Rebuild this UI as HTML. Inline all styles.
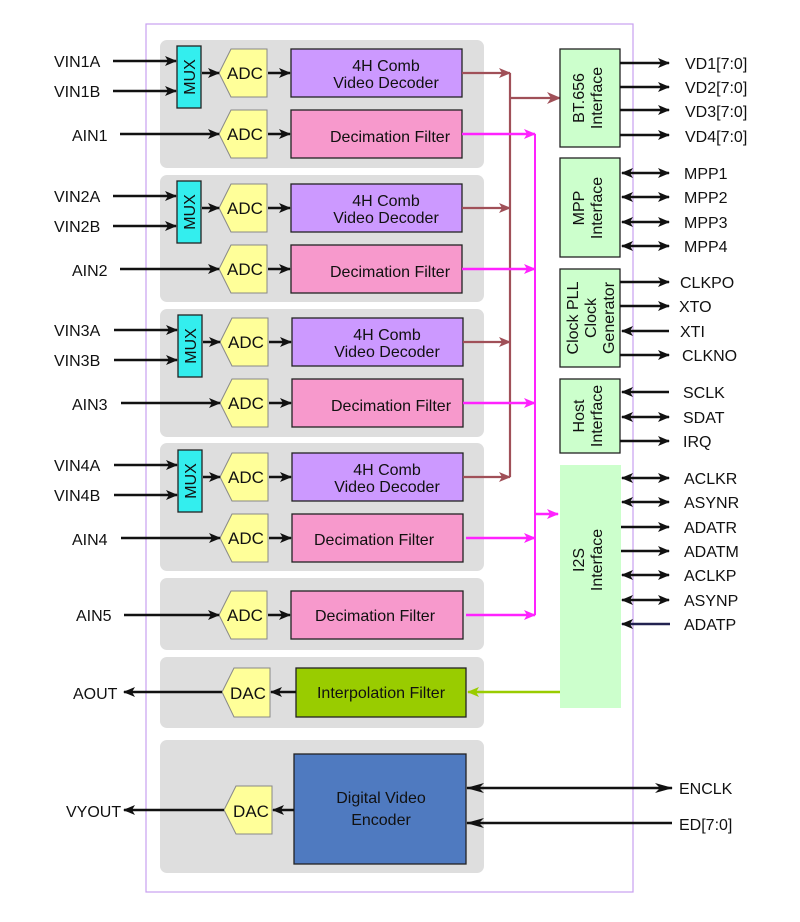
<!DOCTYPE html>
<html><head><meta charset="utf-8"><style>
html,body{margin:0;padding:0;background:#fff;}
svg{display:block;font-family:"Liberation Sans",Arial,sans-serif;}
</style></head><body>
<svg width="800" height="922" viewBox="0 0 800 922" xmlns="http://www.w3.org/2000/svg">
<defs>
<marker id="ab" markerWidth="12" markerHeight="10" refX="11" refY="5" orient="auto" markerUnits="userSpaceOnUse"><path d="M0,0 L12,5 L0,10 L3,5 z" fill="#111"/></marker>
<marker id="abs" markerWidth="12" markerHeight="10" refX="1" refY="5" orient="auto" markerUnits="userSpaceOnUse"><path d="M12,0 L0,5 L12,10 L9,5 z" fill="#111"/></marker>
<marker id="ar" markerWidth="12" markerHeight="10" refX="11" refY="5" orient="auto" markerUnits="userSpaceOnUse"><path d="M0,0 L12,5 L0,10 L3,5 z" fill="#a05058"/></marker>
<marker id="arL" markerWidth="14" markerHeight="12" refX="13" refY="6" orient="auto" markerUnits="userSpaceOnUse"><path d="M0,0 L14,6 L0,12 L4,6 z" fill="#a05058"/></marker>
<marker id="ap" markerWidth="12" markerHeight="10" refX="11" refY="5" orient="auto" markerUnits="userSpaceOnUse"><path d="M0,0 L12,5 L0,10 L3,5 z" fill="#ff22ff"/></marker>
<marker id="ag" markerWidth="12" markerHeight="10" refX="11" refY="5" orient="auto" markerUnits="userSpaceOnUse"><path d="M0,0 L12,5 L0,10 L3,5 z" fill="#99cc00"/></marker>
<marker id="aw" markerWidth="18" markerHeight="10" refX="17" refY="5" orient="auto" markerUnits="userSpaceOnUse"><path d="M0,0 L18,5 L0,10 L5,5 z" fill="#111"/></marker>
<marker id="aws" markerWidth="18" markerHeight="10" refX="1" refY="5" orient="auto" markerUnits="userSpaceOnUse"><path d="M18,0 L0,5 L18,10 L13,5 z" fill="#111"/></marker>
</defs>

<rect x="146" y="24" width="487" height="868" fill="none" stroke="#c8a0f0" stroke-width="1.2"/>

<g fill="#dedede">
<rect x="160" y="40" width="324" height="128" rx="7"/>
<rect x="160" y="175" width="324" height="127" rx="7"/>
<rect x="160" y="309" width="324" height="128" rx="7"/>
<rect x="160" y="443" width="324" height="128" rx="7"/>
<rect x="160" y="578" width="324" height="72" rx="7"/>
<rect x="160" y="657" width="324" height="71" rx="7"/>
<rect x="160" y="740" width="324" height="133" rx="7"/>
</g>

<g font-size="16" fill="#111">
<g id="ch1">
<rect x="177" y="46" width="24" height="62" fill="#33eeee" stroke="#222" stroke-width="1.3"/>
<text transform="translate(195,77) rotate(-90)" text-anchor="middle" font-size="16">MUX</text>
<path d="M231,49 L267,49 L267,97 L231,97 L219,73 Z" fill="#ffff99" stroke="#888" stroke-width="1"/>
<text x="245" y="79" text-anchor="middle" font-size="17">ADC</text>
<rect x="291" y="49" width="171" height="48" fill="#cc99ff" stroke="#222" stroke-width="1.3"/>
<text x="386" y="71" text-anchor="middle">4H Comb</text>
<text x="386" y="88" text-anchor="middle">Video Decoder</text>
<path d="M231,110 L267,110 L267,158 L231,158 L219,134 Z" fill="#ffff99" stroke="#888" stroke-width="1"/>
<text x="245" y="140" text-anchor="middle" font-size="17">ADC</text>
<rect x="291" y="110" width="171" height="48" fill="#f799cc" stroke="#222" stroke-width="1.3"/>
<g stroke="#111" stroke-width="2.5" fill="none">
<line x1="113" y1="61" x2="176" y2="61" marker-end="url(#ab)"/>
<line x1="113" y1="91" x2="176" y2="91" marker-end="url(#ab)"/>
<line x1="202" y1="73" x2="219" y2="73" marker-end="url(#ab)"/>
<line x1="268" y1="73" x2="290" y2="73" marker-end="url(#ab)"/>
<line x1="120" y1="134" x2="219" y2="134" marker-end="url(#ab)"/>
<line x1="268" y1="134" x2="290" y2="134" marker-end="url(#ab)"/>
</g>
</g>
<use href="#ch1" y="135"/>
<use href="#ch1" x="1" y="269"/>
<use href="#ch1" x="1" y="404"/>

<text x="390" y="142" text-anchor="middle">Decimation Filter</text>
<text x="390" y="277" text-anchor="middle">Decimation Filter</text>
<text x="391" y="411" text-anchor="middle">Decimation Filter</text>
<text x="374" y="545" text-anchor="middle">Decimation Filter</text>

<text x="54" y="67">VIN1A</text><text x="54" y="97">VIN1B</text><text x="72" y="141">AIN1</text>
<text x="54" y="202">VIN2A</text><text x="54" y="232">VIN2B</text><text x="72" y="276">AIN2</text>
<text x="54" y="336">VIN3A</text><text x="54" y="366">VIN3B</text><text x="72" y="410">AIN3</text>
<text x="54" y="471">VIN4A</text><text x="54" y="501">VIN4B</text><text x="72" y="545">AIN4</text>

<path d="M231,591 L267,591 L267,639 L231,639 L219,615 Z" fill="#ffff99" stroke="#888"/>
<text x="245" y="621" text-anchor="middle" font-size="17">ADC</text>
<rect x="291" y="591" width="172" height="48" fill="#f799cc" stroke="#222" stroke-width="1.3"/>
<text x="375" y="621" text-anchor="middle">Decimation Filter</text>
<text x="76" y="621">AIN5</text>
<g stroke="#111" stroke-width="2.5" fill="none">
<line x1="124" y1="615" x2="219" y2="615" marker-end="url(#ab)"/>
<line x1="268" y1="615" x2="290" y2="615" marker-end="url(#ab)"/>
</g>

<path d="M234,668 L270,668 L270,717 L234,717 L222,692 Z" fill="#ffff99" stroke="#888"/>
<text x="248" y="699" text-anchor="middle" font-size="17">DAC</text>
<rect x="296" y="668" width="170" height="49" fill="#99cc00" stroke="#222" stroke-width="1.3"/>
<text x="381" y="698" text-anchor="middle" font-size="16">Interpolation Filter</text>
<text x="73" y="699">AOUT</text>
<g stroke="#111" stroke-width="2.5" fill="none">
<line x1="222" y1="692" x2="124" y2="692" marker-end="url(#ab)"/>
<line x1="296" y1="692" x2="271" y2="692" marker-end="url(#ab)"/>
</g>
<line x1="560" y1="692" x2="468" y2="692" stroke="#99cc00" stroke-width="2.5" marker-end="url(#ag)"/>

<rect x="294" y="754" width="172" height="110" fill="#4f7ac0" stroke="#222" stroke-width="1.3"/>
<text x="381" y="803" text-anchor="middle">Digital Video</text>
<text x="381" y="825" text-anchor="middle">Encoder</text>
<path d="M236,786 L272,786 L272,834 L236,834 L224,810 Z" fill="#ffff99" stroke="#888"/>
<text x="251" y="817" text-anchor="middle" font-size="17">DAC</text>
<text x="66" y="817">VYOUT</text>
<g stroke="#111" stroke-width="2.5" fill="none">
<line x1="224" y1="810" x2="124" y2="810" marker-end="url(#ab)"/>
<line x1="294" y1="810" x2="273" y2="810" marker-end="url(#ab)"/>
<line x1="467" y1="788" x2="672" y2="788" marker-start="url(#aws)" marker-end="url(#aw)"/>
<line x1="672" y1="823" x2="467" y2="823" marker-end="url(#aw)"/>
</g>
<text x="679" y="794">ENCLK</text>
<text x="679" y="830">ED[7:0]</text>

<g stroke="#a05058" stroke-width="2.2" fill="none">
<line x1="462" y1="73" x2="510" y2="73" marker-end="url(#ar)"/>
<line x1="462" y1="208" x2="510" y2="208" marker-end="url(#ar)"/>
<line x1="463" y1="342" x2="510" y2="342" marker-end="url(#ar)"/>
<line x1="463" y1="477" x2="510" y2="477" marker-end="url(#ar)"/>
<line x1="510" y1="73" x2="510" y2="477"/>
<line x1="510" y1="98" x2="560" y2="98" marker-end="url(#arL)"/>
</g>
<g stroke="#ff22ff" stroke-width="2.5" fill="none">
<line x1="462" y1="134" x2="535" y2="134" marker-end="url(#ap)"/>
<line x1="462" y1="269" x2="535" y2="269" marker-end="url(#ap)"/>
<line x1="463" y1="403" x2="535" y2="403" marker-end="url(#ap)"/>
<line x1="466" y1="538" x2="535" y2="538" marker-end="url(#ap)"/>
<line x1="466" y1="615" x2="535" y2="615" marker-end="url(#ap)"/>
<line x1="535" y1="134" x2="535" y2="615" stroke-width="2"/>
<line x1="535" y1="514" x2="558" y2="514" marker-end="url(#ap)"/>
</g>

<g fill="#ccffcc" stroke="#222" stroke-width="1.3">
<rect x="560" y="49" width="60" height="98"/>
<rect x="560" y="158" width="60" height="99"/>
<rect x="560" y="269" width="60" height="98"/>
<rect x="560" y="379" width="60" height="74"/>
</g>
<rect x="560" y="465" width="61" height="243" fill="#ccffcc"/>
<text transform="translate(584,98) rotate(-90)" text-anchor="middle">BT.656</text>
<text transform="translate(602,98) rotate(-90)" text-anchor="middle">Interface</text>
<text transform="translate(584,208) rotate(-90)" text-anchor="middle">MPP</text>
<text transform="translate(602,208) rotate(-90)" text-anchor="middle">Interface</text>
<text transform="translate(578,318) rotate(-90)" text-anchor="middle">Clock PLL</text>
<text transform="translate(596,318) rotate(-90)" text-anchor="middle">Clock</text>
<text transform="translate(614,318) rotate(-90)" text-anchor="middle">Generator</text>
<text transform="translate(584,416) rotate(-90)" text-anchor="middle">Host</text>
<text transform="translate(602,416) rotate(-90)" text-anchor="middle">Interface</text>
<text transform="translate(584,560) rotate(-90)" text-anchor="middle">I2S</text>
<text transform="translate(602,560) rotate(-90)" text-anchor="middle">Interface</text>

<g stroke="#111" stroke-width="2.5" fill="none">
<line x1="620" y1="63" x2="669" y2="63" marker-end="url(#ab)"/>
<line x1="620" y1="87" x2="669" y2="87" marker-end="url(#ab)"/>
<line x1="620" y1="110" x2="669" y2="110" marker-end="url(#ab)"/>
<line x1="620" y1="135" x2="669" y2="135" marker-end="url(#ab)"/>
<line x1="622" y1="173" x2="669" y2="173" marker-start="url(#abs)" marker-end="url(#ab)"/>
<line x1="622" y1="197" x2="669" y2="197" marker-start="url(#abs)" marker-end="url(#ab)"/>
<line x1="622" y1="222" x2="669" y2="222" marker-start="url(#abs)" marker-end="url(#ab)"/>
<line x1="622" y1="246" x2="669" y2="246" marker-start="url(#abs)" marker-end="url(#ab)"/>
<line x1="620" y1="282" x2="669" y2="282" marker-end="url(#ab)"/>
<line x1="620" y1="306" x2="669" y2="306" marker-end="url(#ab)"/>
<line x1="669" y1="331" x2="622" y2="331" marker-end="url(#ab)"/>
<line x1="620" y1="355" x2="669" y2="355" marker-end="url(#ab)"/>
<line x1="669" y1="392" x2="622" y2="392" marker-end="url(#ab)"/>
<line x1="622" y1="417" x2="669" y2="417" marker-start="url(#abs)" marker-end="url(#ab)"/>
<line x1="620" y1="441" x2="669" y2="441" marker-end="url(#ab)"/>
<line x1="622" y1="478" x2="669" y2="478" marker-start="url(#abs)" marker-end="url(#ab)"/>
<line x1="622" y1="502" x2="669" y2="502" marker-start="url(#abs)" marker-end="url(#ab)"/>
<line x1="621" y1="527" x2="669" y2="527" marker-end="url(#ab)"/>
<line x1="621" y1="551" x2="669" y2="551" marker-end="url(#ab)"/>
<line x1="622" y1="575" x2="669" y2="575" marker-start="url(#abs)" marker-end="url(#ab)"/>
<line x1="622" y1="600" x2="669" y2="600" marker-start="url(#abs)" marker-end="url(#ab)"/>
<line x1="670" y1="624" x2="622" y2="624" stroke="#222250" marker-end="url(#ab)"/>
</g>
<g>
<text x="685" y="69">VD1[7:0]</text><text x="685" y="93">VD2[7:0]</text><text x="685" y="117">VD3[7:0]</text><text x="685" y="142">VD4[7:0]</text>
<text x="684" y="179">MPP1</text><text x="684" y="203">MPP2</text><text x="684" y="228">MPP3</text><text x="684" y="252">MPP4</text>
<text x="680" y="288">CLKPO</text><text x="679" y="312">XTO</text><text x="680" y="337">XTI</text><text x="682" y="361">CLKNO</text>
<text x="683" y="398">SCLK</text><text x="683" y="423">SDAT</text><text x="683" y="447">IRQ</text>
<text x="684" y="484">ACLKR</text><text x="684" y="508">ASYNR</text><text x="684" y="533">ADATR</text><text x="684" y="557">ADATM</text><text x="684" y="581">ACLKP</text><text x="684" y="606">ASYNP</text><text x="684" y="630">ADATP</text>
</g>
</g>
</svg>
</body></html>
